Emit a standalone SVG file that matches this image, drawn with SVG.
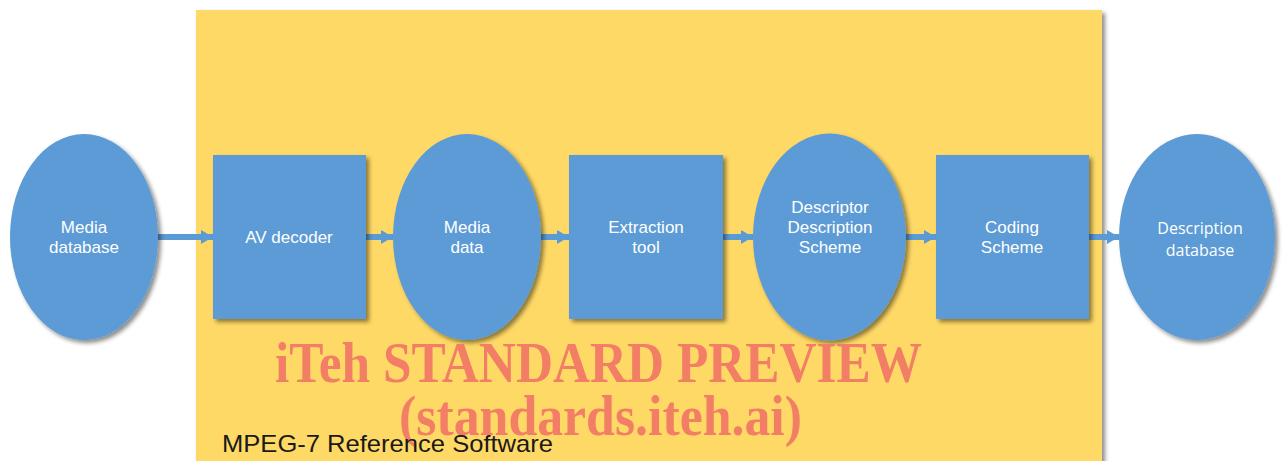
<svg xmlns="http://www.w3.org/2000/svg" width="1287" height="461" viewBox="0 0 1287 461">
<defs>
<filter id="sh" x="-10%" y="-10%" width="130%" height="130%">
<feDropShadow dx="3" dy="3" stdDeviation="2" flood-color="#000" flood-opacity="0.45"/>
</filter>
<marker id="ah" markerWidth="12" markerHeight="14" refX="12" refY="7" orient="auto" markerUnits="userSpaceOnUse">
<path d="M0,0 L12,7 L0,14 Z" fill="#5B9BD5"/>
</marker>
<style>
.n{fill:#5B9BD5;filter:url(#sh);}
.t{font-family:"Liberation Sans",Arial,sans-serif;font-size:17px;fill:#fff;text-anchor:middle;}
.t2{font-family:"Open Sans","Noto Sans",sans-serif;font-size:16px;fill:#fff;text-anchor:middle;}
.c{stroke:#5B9BD5;stroke-width:6;fill:none;marker-end:url(#ah);}
.wm{font-family:"Liberation Serif","Times New Roman",serif;font-weight:bold;font-size:56px;fill:#F27E66;}
</style>
</defs>
<rect width="1287" height="461" fill="#fff"/>
<g id="frame">
<rect x="196" y="10" width="906" height="460" fill="#FFD966" filter="url(#sh)"/>
</g>
<g id="connectors">
<line class="c" x1="158" y1="237" x2="213" y2="237"/>
<line class="c" x1="366" y1="237" x2="393" y2="237"/>
<line class="c" x1="541" y1="237" x2="569" y2="237"/>
<line class="c" x1="723" y1="237" x2="753" y2="237"/>
<line class="c" x1="906" y1="237" x2="936" y2="237"/>
<line class="c" x1="1089" y1="237" x2="1119" y2="237"/>
</g>
<g id="media-database">
<ellipse class="n" cx="84" cy="237" rx="74" ry="103"/>
<text class="t" x="84" y="233">Media</text>
<text class="t" x="84" y="253">database</text>
</g>
<g id="av-decoder">
<rect class="n" x="213" y="155" width="153" height="164"/>
<text class="t" x="289" y="243">AV decoder</text>
</g>
<g id="media-data">
<ellipse class="n" cx="467" cy="237" rx="74" ry="103"/>
<text class="t" x="467" y="233">Media</text>
<text class="t" x="467" y="253">data</text>
</g>
<g id="extraction-tool">
<rect class="n" x="569" y="155" width="154" height="164"/>
<text class="t" x="646" y="233">Extraction</text>
<text class="t" x="646" y="253">tool</text>
</g>
<g id="descriptor">
<ellipse class="n" cx="829.5" cy="237" rx="76.5" ry="103.5"/>
<text class="t" x="830" y="213">Descriptor</text>
<text class="t" x="830" y="233">Description</text>
<text class="t" x="830" y="253">Scheme</text>
</g>
<g id="coding-scheme">
<rect class="n" x="936" y="155" width="153" height="164"/>
<text class="t" x="1012" y="233">Coding</text>
<text class="t" x="1012" y="253">Scheme</text>
</g>
<g id="description-database">
<ellipse class="n" cx="1197" cy="237" rx="78" ry="103"/>
<text class="t2" x="1200" y="234">Description</text>
<text class="t2" x="1200" y="256">database</text>
</g>
<text class="wm" x="275" y="382" textLength="647" lengthAdjust="spacingAndGlyphs">iTeh STANDARD PREVIEW</text>
<text class="wm" x="399" y="435" textLength="403" lengthAdjust="spacingAndGlyphs">(standards.iteh.ai)</text>
<text x="222" y="452" font-family="'Liberation Sans',Arial,sans-serif" font-size="24" fill="#1a1a1a" textLength="331" lengthAdjust="spacingAndGlyphs">MPEG-7 Reference Software</text>
</svg>
